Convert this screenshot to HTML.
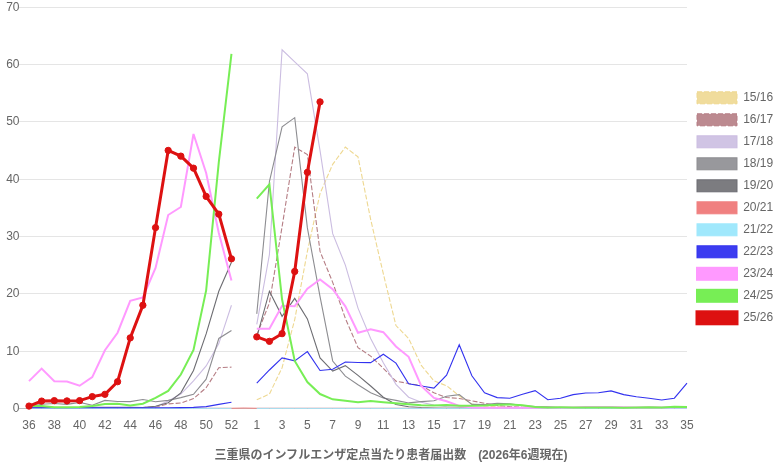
<!DOCTYPE html>
<html lang="ja"><head><meta charset="utf-8"><title>三重県のインフルエンザ定点当たり患者届出数</title>
<style>html,body{margin:0;padding:0;background:#fff;}body{width:783px;height:473px;position:relative;overflow:hidden;font-family:"Liberation Sans","Noto Sans CJK JP",sans-serif;}</style>
</head><body>
<svg width="783" height="473" viewBox="0 0 783 473" style="position:absolute;left:0;top:0">
<g stroke-width="1" fill="none">
<line x1="19.0" y1="408.50" x2="687.0" y2="408.50" stroke="rgba(0,0,0,0.25)"/>
<line x1="19.0" y1="351.50" x2="687.0" y2="351.50" stroke="rgba(0,0,0,0.1)"/>
<line x1="19.0" y1="293.50" x2="687.0" y2="293.50" stroke="rgba(0,0,0,0.1)"/>
<line x1="19.0" y1="236.50" x2="687.0" y2="236.50" stroke="rgba(0,0,0,0.1)"/>
<line x1="19.0" y1="179.50" x2="687.0" y2="179.50" stroke="rgba(0,0,0,0.1)"/>
<line x1="19.0" y1="121.50" x2="687.0" y2="121.50" stroke="rgba(0,0,0,0.1)"/>
<line x1="19.0" y1="64.50" x2="687.0" y2="64.50" stroke="rgba(0,0,0,0.1)"/>
<line x1="19.0" y1="7.50" x2="687.0" y2="7.50" stroke="rgba(0,0,0,0.1)"/>
</g>
<g fill="none" stroke="#eed891" stroke-width="1.1" stroke-linejoin="miter" stroke-linecap="butt" stroke-dasharray="5,2">
<polyline points="256.77,399.77 269.42,394.04 282.08,367.69 294.73,319.57 307.38,251.40 320.04,193.54 332.69,164.32 345.35,147.14 358.00,156.88 370.65,219.32 383.31,273.74 395.96,325.58 408.62,338.47 421.27,365.40 433.92,380.86 446.58,385.73 459.23,395.76 471.88,404.06 484.54,406.07 497.19,406.64 509.85,407.21 522.50,407.79 535.15,407.79 547.81,408.07 560.46,408.07 573.12,408.07 585.77,408.07 598.42,408.07 611.08,408.07 623.73,408.07 636.38,408.07 649.04,408.07 661.69,408.07 674.35,408.07 687.00,408.07"/>
</g>
<g fill="none" stroke="#b57d84" stroke-width="1.1" stroke-linejoin="miter" stroke-linecap="butt" stroke-dasharray="5,2">
<polyline points="29.00,408.07 41.65,408.07 54.31,408.07 66.96,408.07 79.62,408.07 92.27,407.79 104.92,407.79 117.58,407.79 130.23,407.79 142.88,407.50 155.54,406.93 168.19,403.95 180.85,403.03 193.50,398.62 206.15,387.74 218.81,367.69 231.46,367.11"/>
<polyline points="256.77,335.03 269.42,302.95 282.08,226.76 294.73,147.14 307.38,154.58 320.04,251.40 332.69,282.33 345.35,318.42 358.00,347.64 370.65,356.06 383.31,368.32 395.96,381.15 408.62,383.56 421.27,385.56 433.92,392.78 446.58,397.48 459.23,398.51 471.88,400.80 484.54,403.32 497.19,405.50 509.85,406.64 522.50,407.21 535.15,407.50 547.81,407.79 560.46,408.07 573.12,408.07 585.77,408.07 598.42,408.07 611.08,408.07 623.73,408.07 636.38,408.07 649.04,408.07 661.69,408.07 674.35,408.07 687.00,408.07"/>
</g>
<g fill="none" stroke="#cbbde1" stroke-width="1.1" stroke-linejoin="miter" stroke-linecap="butt">
<polyline points="29.00,408.07 41.65,408.07 54.31,408.07 66.96,408.07 79.62,407.79 92.27,407.79 104.92,407.79 117.58,407.79 130.23,407.79 142.88,407.50 155.54,406.64 168.19,400.91 180.85,394.04 193.50,380.86 206.15,365.97 218.81,343.63 231.46,305.25"/>
<polyline points="256.77,324.38 269.42,254.55 282.08,49.75 294.73,61.78 307.38,73.81 320.04,150.57 332.69,233.64 345.35,265.15 358.00,308.11 370.65,338.47 383.31,362.82 395.96,384.30 408.62,397.19 421.27,402.17 433.92,405.09 446.58,406.64 459.23,407.21 471.88,407.79 484.54,407.79 497.19,408.07 509.85,408.07 522.50,408.07 535.15,408.07 547.81,408.07 560.46,408.07 573.12,408.07 585.77,408.07 598.42,408.07 611.08,408.07 623.73,408.07 636.38,408.07 649.04,408.07 661.69,408.07 674.35,408.07 687.00,408.07"/>
</g>
<g fill="none" stroke="#8d8d91" stroke-width="1.1" stroke-linejoin="miter" stroke-linecap="butt">
<polyline points="29.00,406.64 41.65,404.18 54.31,403.43 66.96,404.35 79.62,402.35 92.27,405.21 104.92,400.40 117.58,401.49 130.23,401.66 142.88,399.48 155.54,401.71 168.19,400.34 180.85,397.59 193.50,394.38 206.15,379.14 218.81,338.47 231.46,330.45"/>
<polyline points="256.77,313.84 269.42,181.51 282.08,126.80 294.73,117.63 307.38,227.91 320.04,296.65 332.69,360.98 345.35,376.11 358.00,384.70 370.65,392.78 383.31,398.05 395.96,400.34 408.62,402.92 421.27,401.60 433.92,400.80 446.58,396.33 459.23,394.61 471.88,404.35 484.54,404.64 497.19,403.32 509.85,403.78 522.50,405.50 535.15,406.64 547.81,406.64 560.46,407.79 573.12,408.07 585.77,408.07 598.42,408.07 611.08,408.07 623.73,408.07 636.38,408.07 649.04,408.07 661.69,408.07 674.35,408.07 687.00,408.07"/>
</g>
<g fill="none" stroke="#6d6d72" stroke-width="1.1" stroke-linejoin="miter" stroke-linecap="butt">
<polyline points="29.00,407.79 41.65,407.79 54.31,407.79 66.96,407.79 79.62,407.79 92.27,407.21 104.92,407.21 117.58,407.21 130.23,407.21 142.88,407.50 155.54,406.18 168.19,402.69 180.85,392.89 193.50,370.55 206.15,333.89 218.81,291.27 231.46,262.28"/>
<polyline points="256.77,337.33 269.42,291.21 282.08,316.36 294.73,298.37 307.38,318.88 320.04,357.95 332.69,371.12 345.35,365.68 358.00,375.42 370.65,386.02 383.31,397.19 395.96,404.58 408.62,406.70 421.27,407.56 433.92,408.07 446.58,408.36 459.23,408.36 471.88,408.36 484.54,408.36 497.19,408.36 509.85,408.36 522.50,408.36 535.15,408.36 547.81,408.36 560.46,408.36 573.12,408.36 585.77,408.36 598.42,408.36 611.08,408.36 623.73,408.36 636.38,408.36 649.04,408.36 661.69,408.36 674.35,408.36 687.00,408.36"/>
</g>
<g fill="none" stroke="#f08080" stroke-width="1" stroke-linejoin="miter" stroke-linecap="butt">
<polyline points="29.00,408.25 41.65,408.25 54.31,408.25 66.96,408.25 79.62,408.25 92.27,408.25 104.92,408.25 117.58,408.25 130.23,408.25 142.88,408.25 155.54,408.25 168.19,408.25 180.85,408.25 193.50,408.25 206.15,408.25 218.81,408.25 231.46,408.25 244.12,408.02 256.77,408.25 269.42,408.25 282.08,408.25 294.73,408.25 307.38,408.25 320.04,408.25 332.69,408.25 345.35,408.25 358.00,408.25 370.65,408.25 383.31,408.25 395.96,408.25 408.62,408.25 421.27,408.25 433.92,408.25 446.58,408.25 459.23,408.25 471.88,408.25 484.54,408.25 497.19,408.25 509.85,408.25 522.50,408.25 535.15,408.25 547.81,408.25 560.46,408.25 573.12,408.25 585.77,408.25 598.42,408.25 611.08,408.25 623.73,408.25 636.38,408.25 649.04,408.25 661.69,408.25 674.35,408.25 687.00,408.25"/>
</g>
<g fill="none" stroke="#a0e8fc" stroke-width="1" stroke-linejoin="miter" stroke-linecap="butt">
<polyline points="29.00,408.36 41.65,408.36 54.31,408.36 66.96,408.36 79.62,408.36 92.27,408.36 104.92,408.36 117.58,408.36 130.23,408.36 142.88,408.36 155.54,408.36 168.19,408.36 180.85,408.36 193.50,408.36 206.15,408.36 218.81,408.36 231.46,408.36"/>
<polyline points="256.77,408.36 269.42,408.36 282.08,408.36 294.73,408.36 307.38,408.36 320.04,408.36 332.69,408.36 345.35,408.36 358.00,408.36 370.65,408.36 383.31,408.36 395.96,408.36 408.62,408.36 421.27,408.36 433.92,408.36 446.58,408.36 459.23,408.36 471.88,408.36 484.54,408.36 497.19,408.36 509.85,408.36 522.50,408.36 535.15,408.36 547.81,408.36 560.46,408.36 573.12,408.36 585.77,408.36 598.42,408.36 611.08,408.36 623.73,408.36 636.38,408.36 649.04,408.36 661.69,408.36 674.35,408.36 687.00,408.36"/>
</g>
<g fill="none" stroke="#3232ef" stroke-width="1.1" stroke-linejoin="miter" stroke-linecap="butt">
<polyline points="29.00,407.79 41.65,407.79 54.31,407.79 66.96,407.79 79.62,407.79 92.27,407.79 104.92,407.79 117.58,407.79 130.23,407.79 142.88,407.79 155.54,407.79 168.19,407.79 180.85,407.67 193.50,407.39 206.15,406.64 218.81,404.35 231.46,402.23"/>
<polyline points="256.77,383.15 269.42,369.98 282.08,357.95 294.73,360.87 307.38,351.59 320.04,370.44 332.69,369.29 345.35,362.07 358.00,362.53 370.65,362.65 383.31,354.23 395.96,363.10 408.62,383.73 421.27,386.02 433.92,388.14 446.58,375.13 459.23,344.77 471.88,375.71 484.54,392.89 497.19,397.59 509.85,398.28 522.50,394.32 535.15,390.60 547.81,399.77 560.46,398.22 573.12,394.61 585.77,393.01 598.42,392.78 611.08,390.89 623.73,394.61 636.38,396.79 649.04,398.22 661.69,399.94 674.35,398.22 687.00,383.21"/>
</g>
<g fill="none" stroke="#ff99ff" stroke-width="2" stroke-linejoin="miter" stroke-linecap="butt">
<polyline points="29.00,381.15 41.65,368.55 54.31,381.15 66.96,381.44 79.62,385.73 92.27,377.14 104.92,350.22 117.58,332.74 130.23,300.89 142.88,297.34 155.54,268.01 168.19,215.02 180.85,207.00 193.50,133.96 206.15,172.92 218.81,233.07 231.46,280.61"/>
<polyline points="256.77,328.85 269.42,328.85 282.08,305.82 294.73,306.16 307.38,288.63 320.04,279.47 332.69,289.21 345.35,306.39 358.00,332.74 370.65,329.31 383.31,332.17 395.96,346.49 408.62,356.80 421.27,386.02 433.92,397.93 446.58,401.20 459.23,405.84 471.88,407.50 484.54,407.79 497.19,407.79 509.85,407.79 522.50,407.79 535.15,407.67 547.81,407.50 560.46,407.50 573.12,407.39 585.77,407.10 598.42,407.10 611.08,407.10 623.73,407.21 636.38,407.50 649.04,407.21 661.69,407.50 674.35,407.21 687.00,407.21"/>
</g>
<g fill="none" stroke="#77ee55" stroke-width="2" stroke-linejoin="miter" stroke-linecap="butt">
<polyline points="29.00,406.07 41.65,406.07 54.31,407.21 66.96,407.27 79.62,406.93 92.27,406.07 104.92,403.95 117.58,403.78 130.23,405.50 142.88,403.78 155.54,397.93 168.19,390.89 180.85,374.56 193.50,349.93 206.15,290.35 218.81,162.03 231.46,53.76"/>
<polyline points="256.77,198.69 269.42,184.37 282.08,299.52 294.73,360.98 307.38,382.01 320.04,394.04 332.69,399.31 345.35,400.74 358.00,402.17 370.65,401.03 383.31,402.23 395.96,403.32 408.62,404.18 421.27,405.27 433.92,405.44 446.58,405.09 459.23,405.67 471.88,405.67 484.54,405.50 497.19,404.75 509.85,404.58 522.50,405.27 535.15,407.10 547.81,407.39 560.46,407.33 573.12,407.50 585.77,407.56 598.42,407.56 611.08,407.56 623.73,407.79 636.38,407.39 649.04,407.21 661.69,407.39 674.35,406.64 687.00,407.10"/>
</g>
<g fill="none" stroke="#dd1111" stroke-width="3" stroke-linejoin="miter" stroke-linecap="butt">
<polyline points="29.00,406.07 41.65,401.08 54.31,400.63 66.96,400.91 79.62,400.63 92.27,396.62 104.92,394.32 117.58,381.72 130.23,337.90 142.88,305.25 155.54,227.62 168.19,150.40 180.85,156.13 193.50,168.16 206.15,196.40 218.81,214.16 231.46,258.84"/>
<polyline points="256.77,336.87 269.42,341.34 282.08,333.66 294.73,271.45 307.38,172.34 320.04,101.88"/>
</g>
<g fill="#dd1111" stroke="#dd1111" stroke-width="1">
<circle cx="29.00" cy="406.07" r="3.15"/>
<circle cx="41.65" cy="401.08" r="3.15"/>
<circle cx="54.31" cy="400.63" r="3.15"/>
<circle cx="66.96" cy="400.91" r="3.15"/>
<circle cx="79.62" cy="400.63" r="3.15"/>
<circle cx="92.27" cy="396.62" r="3.15"/>
<circle cx="104.92" cy="394.32" r="3.15"/>
<circle cx="117.58" cy="381.72" r="3.15"/>
<circle cx="130.23" cy="337.90" r="3.15"/>
<circle cx="142.88" cy="305.25" r="3.15"/>
<circle cx="155.54" cy="227.62" r="3.15"/>
<circle cx="168.19" cy="150.40" r="3.15"/>
<circle cx="180.85" cy="156.13" r="3.15"/>
<circle cx="193.50" cy="168.16" r="3.15"/>
<circle cx="206.15" cy="196.40" r="3.15"/>
<circle cx="218.81" cy="214.16" r="3.15"/>
<circle cx="231.46" cy="258.84" r="3.15"/>
<circle cx="256.77" cy="336.87" r="3.15"/>
<circle cx="269.42" cy="341.34" r="3.15"/>
<circle cx="282.08" cy="333.66" r="3.15"/>
<circle cx="294.73" cy="271.45" r="3.15"/>
<circle cx="307.38" cy="172.34" r="3.15"/>
<circle cx="320.04" cy="101.88" r="3.15"/>
</g>
<g font-family="Liberation Sans, sans-serif" font-size="12" fill="#666">
<text x="19.5" y="411.80" text-anchor="end">0</text>
<text x="19.5" y="354.51" text-anchor="end">10</text>
<text x="19.5" y="297.23" text-anchor="end">20</text>
<text x="19.5" y="239.94" text-anchor="end">30</text>
<text x="19.5" y="182.66" text-anchor="end">40</text>
<text x="19.5" y="125.37" text-anchor="end">50</text>
<text x="19.5" y="68.09" text-anchor="end">60</text>
<text x="19.5" y="10.80" text-anchor="end">70</text>
<text x="29.00" y="429" text-anchor="middle">36</text>
<text x="54.31" y="429" text-anchor="middle">38</text>
<text x="79.62" y="429" text-anchor="middle">40</text>
<text x="104.92" y="429" text-anchor="middle">42</text>
<text x="130.23" y="429" text-anchor="middle">44</text>
<text x="155.54" y="429" text-anchor="middle">46</text>
<text x="180.85" y="429" text-anchor="middle">48</text>
<text x="206.15" y="429" text-anchor="middle">50</text>
<text x="231.46" y="429" text-anchor="middle">52</text>
<text x="256.77" y="429" text-anchor="middle">1</text>
<text x="282.08" y="429" text-anchor="middle">3</text>
<text x="307.38" y="429" text-anchor="middle">5</text>
<text x="332.69" y="429" text-anchor="middle">7</text>
<text x="358.00" y="429" text-anchor="middle">9</text>
<text x="383.31" y="429" text-anchor="middle">11</text>
<text x="408.62" y="429" text-anchor="middle">13</text>
<text x="433.92" y="429" text-anchor="middle">15</text>
<text x="459.23" y="429" text-anchor="middle">17</text>
<text x="484.54" y="429" text-anchor="middle">19</text>
<text x="509.85" y="429" text-anchor="middle">21</text>
<text x="535.15" y="429" text-anchor="middle">23</text>
<text x="560.46" y="429" text-anchor="middle">25</text>
<text x="585.77" y="429" text-anchor="middle">27</text>
<text x="611.08" y="429" text-anchor="middle">29</text>
<text x="636.38" y="429" text-anchor="middle">31</text>
<text x="661.69" y="429" text-anchor="middle">33</text>
<text x="687.00" y="429" text-anchor="middle">35</text>
<rect x="697" y="91.80" width="40" height="12" fill="#f0dc9c" stroke="#eed891" stroke-width="1" stroke-dasharray="5,2"/>
<text x="743.2" y="101.20">15/16</text>
<rect x="697" y="113.80" width="40" height="12" fill="#bc8a90" stroke="#b57d84" stroke-width="1" stroke-dasharray="5,2"/>
<text x="743.2" y="123.20">16/17</text>
<rect x="697" y="135.80" width="40" height="12" fill="#d0c4e4" stroke="#cbbde1" stroke-width="1"/>
<text x="743.2" y="145.20">17/18</text>
<rect x="697" y="157.80" width="40" height="12" fill="#98989c" stroke="#8d8d91" stroke-width="1"/>
<text x="743.2" y="167.20">18/19</text>
<rect x="697" y="179.80" width="40" height="12" fill="#7c7c80" stroke="#6d6d72" stroke-width="1"/>
<text x="743.2" y="189.20">19/20</text>
<rect x="697" y="201.80" width="40" height="12" fill="#f08080" stroke="#f08080" stroke-width="1"/>
<text x="743.2" y="211.20">20/21</text>
<rect x="697" y="223.80" width="40" height="12" fill="#a0e8fc" stroke="#a0e8fc" stroke-width="1"/>
<text x="743.2" y="233.20">21/22</text>
<rect x="697" y="245.80" width="40" height="12" fill="#3c3cf0" stroke="#3232ef" stroke-width="1"/>
<text x="743.2" y="255.20">22/23</text>
<rect x="697" y="267.80" width="40" height="12" fill="#ff99ff" stroke="#ff99ff" stroke-width="2"/>
<text x="743.2" y="277.20">23/24</text>
<rect x="697" y="289.80" width="40" height="12" fill="#77ee55" stroke="#77ee55" stroke-width="2"/>
<text x="743.2" y="299.20">24/25</text>
<rect x="697" y="311.80" width="40" height="12" fill="#dd1111" stroke="#dd1111" stroke-width="3"/>
<text x="743.2" y="321.20">25/26</text>
</g>
<text x="391" y="459" text-anchor="middle" font-family="Liberation Sans, 'Noto Sans CJK JP', sans-serif" font-size="12" font-weight="bold" fill="#666">三重県のインフルエンザ定点当たり患者届出数　(2026年6週現在)</text>
</svg>
</body></html>
